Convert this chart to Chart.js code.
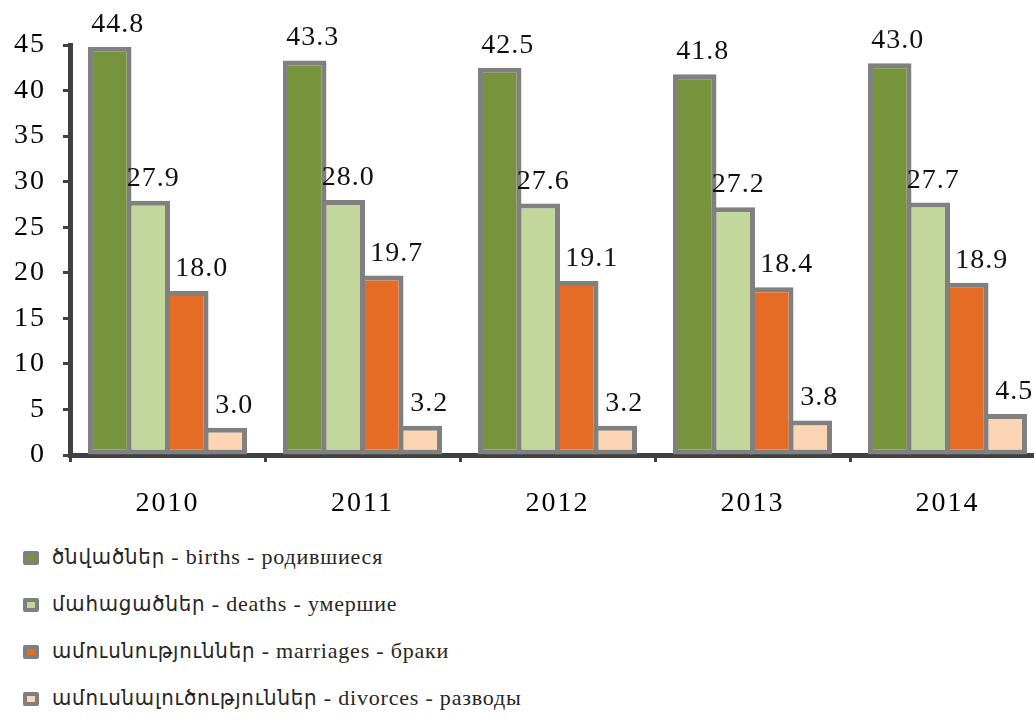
<html lang="hy">
<head>
    <meta charset="UTF-8">
    <script src="https://cdn.jsdelivr.net/npm/chart.js"></script>
    <title>Births, deaths, marriages, divorces</title>
    <style>
        body { margin: 0; overflow: hidden; background: #fff; }
        #wrap { position: relative; width: 1050px; height: 525px; }
        #legend { list-style: none; margin: 8px 0 0 0; padding: 0 0 0 23px; }
        #legend li {
            height: 47px; line-height: 47px;
            font-family: "Liberation Serif", "DejaVu Sans Condensed", "DejaVu Sans", serif;
            font-size: 22px; letter-spacing: 0.8px; color: #262626;
        }
        #legend .box {
            display: inline-block; width: 8px; height: 6px;
            border: 4px solid #7f7f7f; border-radius: 2px;
            margin-right: 13px; vertical-align: -1px;
        }
    </style>
</head>
<body>
    <div id="wrap"><canvas id="vitalChart"></canvas></div>
    <ul id="legend"></ul>

    <script>
        // data
        var years = ['2010', '2011', '2012', '2013', '2014'];
        var births = [44.8, 43.3, 42.5, 41.8, 43.0];
        var deaths = [27.9, 28.0, 27.6, 27.2, 27.7];
        var marriages = [18.0, 19.7, 19.1, 18.4, 18.9];
        var divorces = [3.0, 3.2, 3.2, 3.8, 4.5];
        var seriesNames = [
            'ծնվածներ - births - родившиеся',
            'մահացածներ - deaths - умершие',
            'ամուսնություններ - marriages - браки',
            'ամուսնալուծություններ - divorces - разводы'
        ];

        var serif = '"Liberation Serif", "DejaVu Serif", serif';

        function bar(label, data, color, labelShift) {
            return {
                label: label,
                data: data,
                backgroundColor: color,
                borderColor: '#808080',
                borderWidth: 5,
                borderSkipped: false,
                categoryPercentage: 0.79,
                barPercentage: 1.13,
                labelShift: labelShift
            }
        }

        // value labels above the bars
        var valueLabels = {
            id: 'valueLabels',
            afterDatasetsDraw: function (chart) {
                var ctx = chart.ctx;
                ctx.save();
                ctx.font = '28px ' + serif;
                ctx.letterSpacing = '1px';
                ctx.fillStyle = '#111';
                ctx.textAlign = 'center';
                ctx.textBaseline = 'alphabetic';
                chart.data.datasets.forEach(function (ds, i) {
                    chart.getDatasetMeta(i).data.forEach(function (el, j) {
                        ctx.fillText(ds.data[j].toFixed(1), el.x + ds.labelShift, el.y - 15);
                    });
                });
                ctx.restore();
            }
        };

        var spacing = {
            id: 'spacing',
            beforeLayout: function (chart) { chart.ctx.letterSpacing = '2px'; },
            beforeDraw: function (chart) { chart.ctx.letterSpacing = '2px'; }
        };

        var ctx = document.getElementById('vitalChart').getContext('2d');
        var chart = new Chart(ctx, {
            type: 'bar',
            data: {
                labels: years,
                datasets: [
                    bar(seriesNames[0], births, '#77933C', 8),
                    bar(seriesNames[1], deaths, '#C3D69B', 5),
                    bar(seriesNames[2], marriages, '#E46C24', 15),
                    bar(seriesNames[3], divorces, '#FCD5B5', 9)
                ]
            },
            options: {
                responsive: true,
                maintainAspectRatio: false,
                animation: false,
                layout: {
                    padding: { top: 45, left: 11, right: 5, bottom: 0 }
                },
                plugins: {
                    legend: { display: false },
                    tooltip: { enabled: false }
                },
                scales: {
                    x: {
                        afterFit: function (scale) { scale.height = 70; },
                        grid: {
                            offset: true,
                            drawOnChartArea: false,
                            tickLength: 7,
                            tickWidth: 3,
                            tickColor: '#404040'
                        },
                        border: { display: true, color: '#404040', width: 5 },
                        ticks: {
                            padding: 25,
                            color: '#000',
                            font: { family: serif, size: 28 }
                        }
                    },
                    y: {
                        min: 0,
                        max: 45,
                        afterFit: function (scale) { scale.width = 59; },
                        grid: {
                            drawOnChartArea: false,
                            tickLength: 7,
                            tickWidth: 3,
                            tickColor: '#404040'
                        },
                        border: { display: true, color: '#404040', width: 5 },
                        ticks: {
                            stepSize: 5,
                            padding: 17,
                            color: '#000',
                            font: { family: serif, size: 28 }
                        }
                    }
                }
            },
            plugins: [spacing, valueLabels]
        });

        // legend as a vertical list under the chart
        var legendEl = document.getElementById('legend');
        chart.data.datasets.forEach(function (ds) {
            var li = document.createElement('li');
            var box = document.createElement('span');
            box.className = 'box';
            box.style.background = ds.backgroundColor;
            li.appendChild(box);
            li.appendChild(document.createTextNode(ds.label));
            legendEl.appendChild(li);
        });
    </script>
</body>
</html>
